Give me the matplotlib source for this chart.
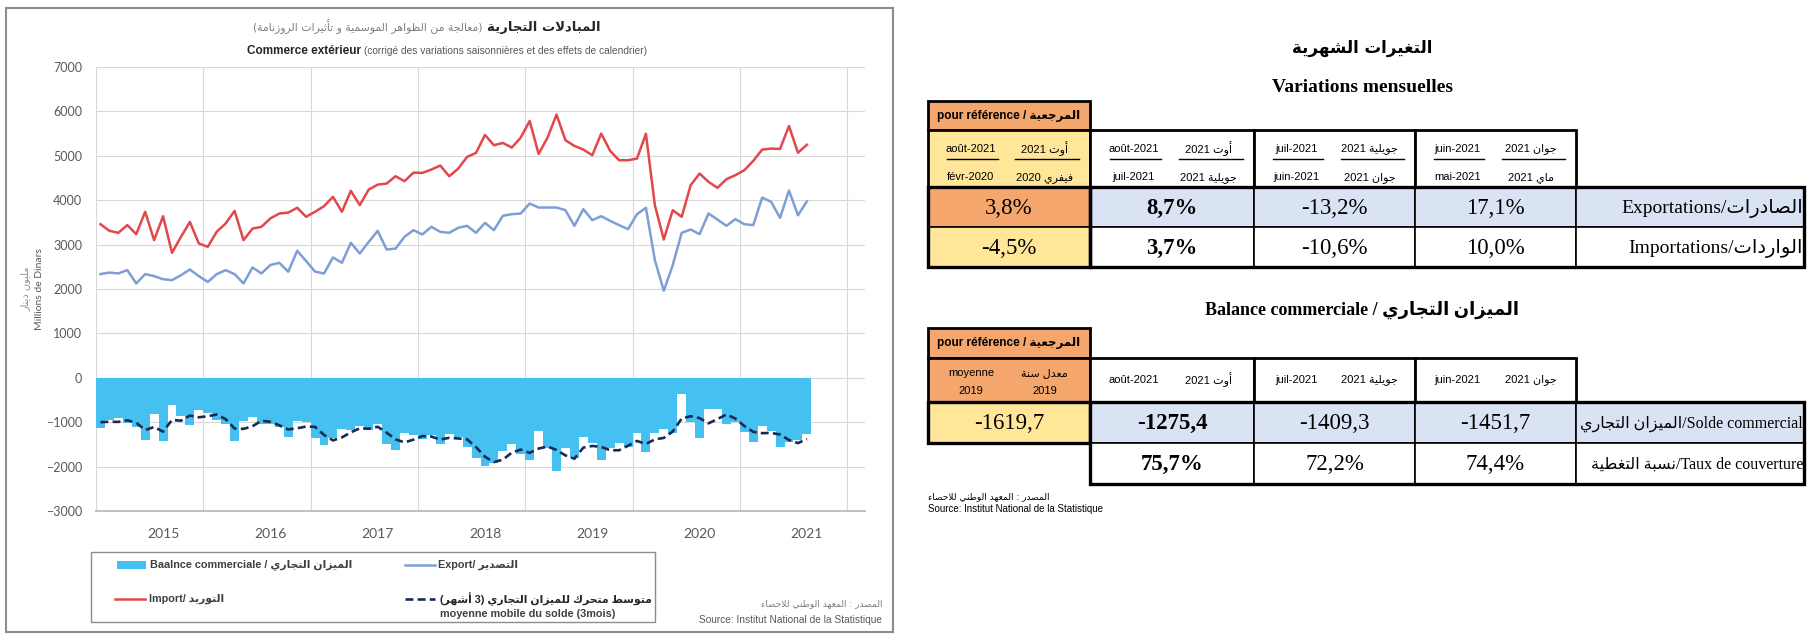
import re
import numpy as np
import matplotlib
matplotlib.use('Agg')
import matplotlib.pyplot as plt
from matplotlib.patches import Rectangle

# monthly data, Jan 2015 .. Aug 2021 (millions de dinars)
exports = [2335, 2370, 2350, 2425, 2125, 2335, 2290, 2220, 2200, 2310, 2440, 2290,
           2160, 2335, 2425, 2335, 2125, 2485, 2350, 2540, 2590, 2390, 2860, 2630,
           2390, 2350, 2710, 2590, 3040, 2800, 3060, 3310, 2890, 2910, 3175, 3325,
           3228, 3400, 3288, 3265, 3378, 3423, 3265, 3490, 3325, 3648, 3685, 3700,
           3925, 3835, 3835, 3835, 3775, 3423, 3798, 3550, 3640, 3535, 3438, 3348,
           3685, 3828, 2650, 1960, 2538, 3265, 3340, 3235, 3700, 3565, 3423, 3573,
           3460, 3438, 4060, 3963, 3603, 4219, 3660, 3973]
imports = [3460, 3310, 3265, 3440, 3235, 3740, 3100, 3640, 2815, 3175, 3510, 3025,
           2950, 3290, 3475, 3760, 3100, 3360, 3400, 3590, 3700, 3720, 3830, 3625,
           3740, 3865, 4075, 3740, 4210, 3890, 4240, 4350, 4375, 4540, 4428, 4620,
           4615, 4690, 4780, 4540, 4710, 4975, 5065, 5470, 5238, 5290, 5185, 5410,
           5785, 5043, 5410, 5928, 5350, 5223, 5140, 5013, 5500, 5110, 4900, 4900,
           4938, 5496, 3888, 3115, 3775, 3625, 4338, 4600, 4413, 4278, 4473, 4563,
           4675, 4885, 5140, 5163, 5155, 5671, 5069, 5249]
balance = [-1125, -940, -915, -1015, -1110, -1405, -810, -1420, -615, -865, -1070, -735,
           -790, -955, -1050, -1425, -975, -875, -1050, -1050, -1110, -1330, -970, -995,
           -1350, -1515, -1365, -1150, -1170, -1090, -1180, -1040, -1485, -1630, -1253, -1295,
           -1387, -1290, -1492, -1275, -1332, -1552, -1800, -1980, -1913, -1642, -1500, -1710,
           -1860, -1208, -1575, -2093, -1575, -1800, -1342, -1463, -1860, -1575, -1462, -1552,
           -1253, -1668, -1238, -1155, -1237, -360, -998, -1365, -713, -713, -1050, -990,
           -1215, -1447, -1080, -1200, -1552, -1452, -1409, -1275]
balance_ma3 = [-1000, -990, -993, -957, -1013, -1177, -1108, -1212, -948, -967, -850, -890,
               -865, -827, -932, -1143, -1150, -1092, -967, -992, -1070, -1163, -1137, -1098,
               -1105, -1287, -1410, -1343, -1228, -1137, -1147, -1103, -1235, -1385, -1456, -1393,
               -1312, -1324, -1390, -1352, -1366, -1386, -1561, -1777, -1898, -1845, -1685, -1617,
               -1690, -1593, -1548, -1625, -1748, -1823, -1572, -1535, -1555, -1633, -1632, -1530,
               -1422, -1491, -1386, -1354, -1210, -917, -865, -908, -1025, -930, -825, -918,
               -1085, -1217, -1247, -1242, -1277, -1401, -1471, -1379]
year_labels = ['2015', '2016', '2017', '2018', '2019', '2020', '2021']

# tables
var_ref_dates = ('août-2021', 'أوت 2021', 'févr-2020', 'فيفري 2020')
var_col_dates = [('août-2021', 'أوت 2021', 'juil-2021', 'جويلية 2021'),
                 ('juil-2021', 'جويلية 2021', 'juin-2021', 'جوان 2021'),
                 ('juin-2021', 'جوان 2021', 'mai-2021', 'ماي 2021')]
var_rows = [('Exportations', 'الصادرات', '3,8%', ['8,7%', '-13,2%', '17,1%']),
            ('Importations', 'الواردات', '-4,5%', ['3,7%', '-10,6%', '10,0%'])]
bal_ref_head = ('moyenne', 'معدل سنة', '2019')
bal_col_dates = [('août-2021', 'أوت 2021'), ('juil-2021', 'جويلية 2021'), ('juin-2021', 'جوان 2021')]
bal_rows = [('Solde commercial', 'الميزان التجاري', '-1619,7', ['-1275,4', '-1409,3', '-1451,7']),
            ('Taux de couverture', 'نسبة التغطية', None, ['75,7%', '72,2%', '74,4%'])]

# --- minimal arabic shaping (presentation forms) + visual reordering ---
_AR = {'ء': (0xFE80, 1), 'آ': (0xFE81, 2), 'أ': (0xFE83, 2), 'ؤ': (0xFE85, 2), 'إ': (0xFE87, 2),
       'ئ': (0xFE89, 4), 'ا': (0xFE8D, 2), 'ب': (0xFE8F, 4), 'ة': (0xFE93, 2), 'ت': (0xFE95, 4),
       'ث': (0xFE99, 4), 'ج': (0xFE9D, 4), 'ح': (0xFEA1, 4), 'خ': (0xFEA5, 4), 'د': (0xFEA9, 2),
       'ذ': (0xFEAB, 2), 'ر': (0xFEAD, 2), 'ز': (0xFEAF, 2), 'س': (0xFEB1, 4), 'ش': (0xFEB5, 4),
       'ص': (0xFEB9, 4), 'ض': (0xFEBD, 4), 'ط': (0xFEC1, 4), 'ظ': (0xFEC5, 4), 'ع': (0xFEC9, 4),
       'غ': (0xFECD, 4), 'ف': (0xFED1, 4), 'ق': (0xFED5, 4), 'ك': (0xFED9, 4), 'ل': (0xFEDD, 4),
       'م': (0xFEE1, 4), 'ن': (0xFEE5, 4), 'ه': (0xFEE9, 4), 'و': (0xFEED, 2), 'ى': (0xFEEF, 2),
       'ي': (0xFEF1, 4)}
_LA = {'ا': 0xFEFB, 'أ': 0xFEF7, 'إ': 0xFEF9, 'آ': 0xFEF5}


def ar(s):
    toks, i = [], 0
    while i < len(s):
        if s[i] == 'ل' and i + 1 < len(s) and s[i + 1] in _LA:
            toks.append(('LA', s[i + 1]))
            i += 2
        else:
            toks.append(s[i])
            i += 1

    def kind(t):
        if isinstance(t, tuple):
            return 2
        return _AR[t][1] if t in _AR else 0

    out = []
    for j, t in enumerate(toks):
        k = kind(t)
        if k == 0:
            out.append(t)
            continue
        jp = j > 0 and kind(toks[j - 1]) == 4
        jn = k == 4 and j + 1 < len(toks) and kind(toks[j + 1]) >= 2
        base = _LA[t[1]] if isinstance(t, tuple) else _AR[t][0]
        form = 3 if (jp and jn) else 1 if jp else 2 if jn else 0
        out.append(chr(base + form))
    vis = ''.join(out)[::-1].translate(str.maketrans('()', ')('))
    return re.sub(r'[0-9A-Za-z%.,\-]+', lambda m: m.group(0)[::-1], vis)


SANS = ['Lato', 'DejaVu Sans']
NARROW = ['Liberation Sans Narrow', 'Liberation Sans', 'DejaVu Sans']
SERIF = ['Liberation Serif', 'DejaVu Sans']
ARF = ['DejaVu Sans']

BAR_C = '#44C1F0'
EXP_C = '#7F9ED6'
IMP_C = '#E2474B'
MA_C = '#1B2A55'
ORANGE = '#F5A66C'
YELLOW = '#FFE699'
LBLUE = '#DAE3F3'

W, H = 1810, 643
fig = plt.figure(figsize=(W / 100, H / 100), dpi=100)
bg = fig.add_axes([0, 0, 1, 1])
bg.set_xlim(0, W)
bg.set_ylim(H, 0)
bg.axis('off')


def T(x, y, s, **kw):
    kw.setdefault('va', 'center')
    return bg.text(x, y, s, **kw)


def after(prev, s, side, gap=3, **kw):
    # place a text right next to another one (left or right of it)
    if side == 'left':
        return bg.annotate(s, xy=(0, 0.5), xycoords=prev, xytext=(-gap, 0), textcoords='offset points',
                           ha='right', va='center', **kw)
    return bg.annotate(s, xy=(1, 0.5), xycoords=prev, xytext=(gap, 0), textcoords='offset points',
                       ha='left', va='center', **kw)


# ---------------- left chart ----------------
bg.add_patch(Rectangle((6, 8), 887, 624, facecolor='white', edgecolor='#8C8C8C', lw=1.5))

ax = fig.add_axes([96 / W, 1 - 511 / H, (865 - 96) / W, (511 - 67) / H])
x = np.arange(len(exports))
ax.bar(x, balance, width=1.0, color=BAR_C, zorder=2)
ax.plot(x, exports, color=EXP_C, lw=1.8, zorder=3)
ax.plot(x, imports, color=IMP_C, lw=1.8, zorder=3)
ax.plot(x, balance_ma3, color=MA_C, lw=1.9, ls=(0, (3, 1.6)), zorder=4)
ax.set_xlim(-0.5, 85.5)
ax.set_ylim(-3000, 7000)
ax.set_yticks(np.arange(-3000, 7001, 1000))
ax.set_xticks(np.arange(len(year_labels)) * 12 + 7)
ax.set_xticklabels(year_labels)
ax.set_xticks(np.arange(-0.5, 84, 12), minor=True)
ax.grid(True, axis='y', color='#D9D9D9', lw=0.8, zorder=0)
ax.grid(True, axis='x', which='minor', color='#D9D9D9', lw=0.8, zorder=0)
ax.grid(False, axis='x', which='major')
ax.set_axisbelow(True)
for side in ['left', 'right', 'top']:
    ax.spines[side].set_visible(False)
ax.spines['bottom'].set_color('#BFBFBF')
ax.spines['bottom'].set_linewidth(1.4)
ax.tick_params(axis='both', which='both', length=0, labelcolor='#595959')
ax.tick_params(axis='y', pad=10, labelsize=9)
ax.tick_params(axis='x', pad=12, labelsize=10)
for lab in ax.get_xticklabels() + ax.get_yticklabels():
    lab.set_family(SANS)

# titles
t_ar = T(600, 27, ar('المبادلات التجارية'), ha='right', fontsize=9.5, fontweight='bold', family=ARF,
         color='#262626')
after(t_ar, ar('(معالجة من الظواهر الموسمية و تأثيرات الروزنامة)'), 'left', gap=3, fontsize=7.8,
      family=ARF, color='#7F7F7F')
t_fr = T(247, 51, 'Commerce extérieur', ha='left', fontsize=8.5, fontweight='bold', family=NARROW,
         color='#262626')
after(t_fr, '(corrigé des variations saisonnières et des effets de calendrier)', 'right', gap=2.5,
      fontsize=7.3, family=NARROW, color='#595959')

# y label
T(25, 289, ar('مليون دينار'), ha='center', rotation=90, fontsize=7, family=ARF, color='#8C8C8C')
T(39, 289, 'Millions de Dinars', ha='center', rotation=90, fontsize=7.5, family=SANS, color='#595959')

# legend
bg.add_patch(Rectangle((91, 552), 564, 70, facecolor='white', edgecolor='#8C8C8C', lw=1.0))
bg.add_patch(Rectangle((117, 561), 29, 8, facecolor=BAR_C, edgecolor='none'))
T(150, 565, 'Baalnce commerciale / ' + ar('الميزان التجاري'), ha='left', fontsize=7.8,
  fontweight='bold', family=NARROW, color='#404040')
bg.plot([405, 435], [565, 565], color=EXP_C, lw=1.8)
T(438, 565, 'Export/ ' + ar('التصدير'), ha='left', fontsize=7.8, fontweight='bold', family=NARROW, color='#404040')
bg.plot([115, 145], [599, 599], color=IMP_C, lw=1.8)
T(149, 599, 'Import/ ' + ar('التوريد'), ha='left', fontsize=7.8, fontweight='bold', family=NARROW, color='#404040')
bg.plot([405, 435], [599, 599], color=MA_C, lw=1.9, ls=(0, (3, 1.6)))
T(440, 599, ar('متوسط متحرك للميزان التجاري (3 أشهر)'), ha='left', fontsize=7.8, fontweight='bold',
  family=NARROW, color='#262626')
T(440, 614, 'moyenne mobile du solde (3mois)', ha='left', fontsize=7.8, fontweight='bold',
  family=NARROW, color='#404040')

# source
T(882, 604, ar('المصدر : المعهد الوطني للاحصاء'), ha='right', fontsize=6.5, family=ARF, color='#7F7F7F')
T(882, 620, 'Source: Institut National de la Statistique', ha='right', fontsize=7.3, family=NARROW, color='#595959')

# ---------------- right tables ----------------
CX = [928, 1090, 1254, 1415, 1576, 1804]


def box(x0, y0, x1, y1, fc='white', lw=2.0):
    bg.add_patch(Rectangle((x0, y0), x1 - x0, y1 - y0, facecolor=fc, edgecolor='black', lw=lw, zorder=2))


def date_pair(x0, x1, yc, lat, arb, size=8):
    w = x1 - x0
    T(x0 + 0.265 * w, yc, lat, ha='center', fontsize=size, family=NARROW, zorder=3)
    T(x0 + 0.72 * w, yc, arb, ha='center', fontsize=size, family=NARROW, zorder=3)


def date_block(x0, x1, y0, y1, d):
    w = x1 - x0
    ym = y0 + 0.51 * (y1 - y0)
    date_pair(x0, x1, y0 + 0.33 * (y1 - y0), d[0], ar(d[1]))
    date_pair(x0, x1, y0 + 0.83 * (y1 - y0), d[2], ar(d[3]))
    bg.plot([x0 + 0.12 * w, x0 + 0.43 * w], [ym, ym], color='black', lw=1.0, zorder=3)
    bg.plot([x0 + 0.54 * w, x0 + 0.93 * w], [ym, ym], color='black', lw=1.0, zorder=3)


ref_title = 'pour référence / ' + ar('المرجعية')

# table 1: variations mensuelles
T1 = [101, 130, 187, 227, 267]
T(1362, 48, ar('التغيرات الشهرية'), ha='center', fontsize=12, fontweight='bold', family=ARF)
T(1362, 87, 'Variations mensuelles', ha='center', fontsize=14, fontweight='bold', family=SERIF)
box(CX[0], T1[0], CX[1], T1[1], ORANGE)
T((CX[0] + CX[1]) / 2, (T1[0] + T1[1]) / 2, ref_title, ha='center', fontsize=8.5, fontweight='bold',
  family=NARROW, zorder=3)
box(CX[0], T1[1], CX[1], T1[2], YELLOW)
date_block(CX[0], CX[1], T1[1], T1[2], var_ref_dates)
for c, d in enumerate(var_col_dates):
    box(CX[c + 1], T1[1], CX[c + 2], T1[2])
    date_block(CX[c + 1], CX[c + 2], T1[1], T1[2], d)
for r, (lat, arb, refv, vals) in enumerate(var_rows):
    y0, y1 = T1[2 + r], T1[3 + r]
    yc = (y0 + y1) / 2 + 1
    box(CX[0], y0, CX[1], y1, ORANGE if r == 0 else YELLOW, lw=1.2)
    T((CX[0] + CX[1]) / 2, yc, refv, ha='center', fontsize=16.5, family=SERIF, zorder=3)
    for c, v in enumerate(vals):
        box(CX[c + 1], y0, CX[c + 2], y1, LBLUE if r == 0 else 'white', lw=1.2)
        T((CX[c + 1] + CX[c + 2]) / 2, yc, v, ha='center', fontsize=16.5, family=SERIF,
          fontweight='bold' if c == 0 else 'normal', zorder=3)
    box(CX[4], y0, CX[5], y1, LBLUE if r == 0 else 'white', lw=1.2)
    T(CX[5] - 1, yc, lat + '/' + ar(arb), ha='right', fontsize=14, family=SERIF, zorder=3)
bg.add_patch(Rectangle((CX[0], T1[2]), CX[1] - CX[0], T1[4] - T1[2], fill=False, edgecolor='black', lw=2.4, zorder=4))
bg.add_patch(Rectangle((CX[1], T1[2]), CX[5] - CX[1], T1[4] - T1[2], fill=False, edgecolor='black', lw=2.4, zorder=4))

# table 2: balance commerciale
T2 = [328, 358, 402, 443, 484]
T(1362, 310, 'Balance commerciale / ' + ar('الميزان التجاري'), ha='center', fontsize=13, fontweight='bold',
  family=SERIF)
box(CX[0], T2[0], CX[1], T2[1], ORANGE)
T((CX[0] + CX[1]) / 2, (T2[0] + T2[1]) / 2, ref_title, ha='center', fontsize=8.5, fontweight='bold',
  family=NARROW, zorder=3)
box(CX[0], T2[1], CX[1], T2[2], ORANGE)
date_pair(CX[0], CX[1], T2[1] + 0.33 * (T2[2] - T2[1]), bal_ref_head[0], ar(bal_ref_head[1]))
date_pair(CX[0], CX[1], T2[1] + 0.75 * (T2[2] - T2[1]), bal_ref_head[2], bal_ref_head[2])
for c, (lat, arb) in enumerate(bal_col_dates):
    box(CX[c + 1], T2[1], CX[c + 2], T2[2])
    date_pair(CX[c + 1], CX[c + 2], (T2[1] + T2[2]) / 2, lat, ar(arb))
for r, (lat, arb, refv, vals) in enumerate(bal_rows):
    y0, y1 = T2[2 + r], T2[3 + r]
    yc = (y0 + y1) / 2 + 1
    if refv is not None:
        box(CX[0], y0, CX[1], y1, YELLOW, lw=2.4)
        T((CX[0] + CX[1]) / 2, yc, refv, ha='center', fontsize=16.5, family=SERIF, zorder=3)
    for c, v in enumerate(vals):
        box(CX[c + 1], y0, CX[c + 2], y1, LBLUE if r == 0 else 'white', lw=1.2)
        T((CX[c + 1] + CX[c + 2]) / 2, yc, v, ha='center', fontsize=16.5, family=SERIF,
          fontweight='bold' if c == 0 else 'normal', zorder=3)
    box(CX[4], y0, CX[5], y1, LBLUE if r == 0 else 'white', lw=1.2)
    T(CX[5] - 1, yc, ar(arb) + '/' + lat, ha='right', fontsize=11.5, family=SERIF, zorder=3)
bg.add_patch(Rectangle((CX[1], T2[2]), CX[5] - CX[1], T2[4] - T2[2], fill=False, edgecolor='black', lw=2.4, zorder=4))

T(CX[0], 497, ar('المصدر : المعهد الوطني للاحصاء'), ha='left', fontsize=6.5, family=ARF)
T(CX[0], 509, 'Source: Institut National de la Statistique', ha='left', fontsize=7, family=NARROW)

fig.savefig('out.png', dpi=100)
